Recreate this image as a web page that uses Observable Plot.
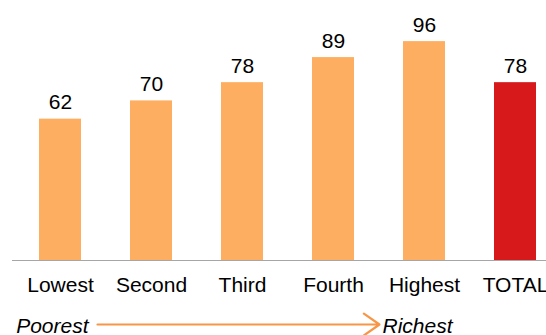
<!DOCTYPE html>
<html>
<head>
<meta charset="utf-8">
<script src="https://cdn.jsdelivr.net/npm/d3@7"></script>
<script src="https://cdn.jsdelivr.net/npm/@observablehq/plot@0.6"></script>
<style>
  html, body { margin: 0; padding: 0; background: #fff; }
  #chart svg { display: block; font-family: "Liberation Sans", Arial, sans-serif; }
</style>
</head>
<body>
<div id="chart"></div>
<script>
const categories = ["Lowest", "Second", "Third", "Fourth", "Highest", "TOTAL"];
const values = [62, 70, 78, 89, 96, 78];
const groups = ["quintile", "quintile", "quintile", "quintile", "quintile", "total"];
const arrowFrom = "Lowest";
const arrowTo = "Highest";
const arrowStartLabel = "Poorest";
const arrowEndLabel = "Richest";

const data = categories.map((c, i) => ({category: c, value: values[i], group: groups[i]}));

const chart = Plot.plot({
  width: 546,
  height: 335,
  marginLeft: 12,
  marginRight: 0,
  marginTop: 0,
  marginBottom: 75,
  style: {fontFamily: '"Liberation Sans", Arial, sans-serif', background: "#fff"},
  x: {
    domain: categories,
    range: [12.2, 561.8],
    paddingInner: 0.5415,
    paddingOuter: 0.27075,
    label: null
  },
  y: {domain: [0, 100], range: [260, 32], axis: null},
  color: {domain: ["quintile", "total"], range: ["#fdae61", "#d7191c"]},
  marks: [
    Plot.barY(data, {x: "category", y: "value", fill: "group"}),
    Plot.ruleY([0], {stroke: "#a6a6a6", strokeWidth: 1.2}),
    Plot.text(data, {x: "category", y: "value", text: d => String(d.value), lineAnchor: "bottom", dy: -10, fontSize: 21, fill: "#000"}),
    Plot.axisX({tickSize: 0, tickPadding: 17, fontSize: 21, color: "#000", label: null}),
    Plot.arrow([{a: arrowFrom, b: arrowTo}], {
      x1: "a", x2: "b", y1: () => 0, y2: () => 0, dy: 64,
      insetStart: 37, insetEnd: 45,
      stroke: "#f79646", strokeWidth: 2.2, headLength: 13, headAngle: 70
    }),
    Plot.text([arrowStartLabel], {x: () => arrowFrom, y: () => 0, text: d => d, textAnchor: "end", lineAnchor: "bottom", dx: 28, dy: 72, fontSize: 21, fontStyle: "italic", fill: "#000"}),
    Plot.text([arrowEndLabel], {x: () => arrowTo, y: () => 0, text: d => d, textAnchor: "start", lineAnchor: "bottom", dx: -42, dy: 72, fontSize: 21, fontStyle: "italic", fill: "#000"})
  ]
});
document.getElementById("chart").append(chart);
</script>
</body>
</html>
